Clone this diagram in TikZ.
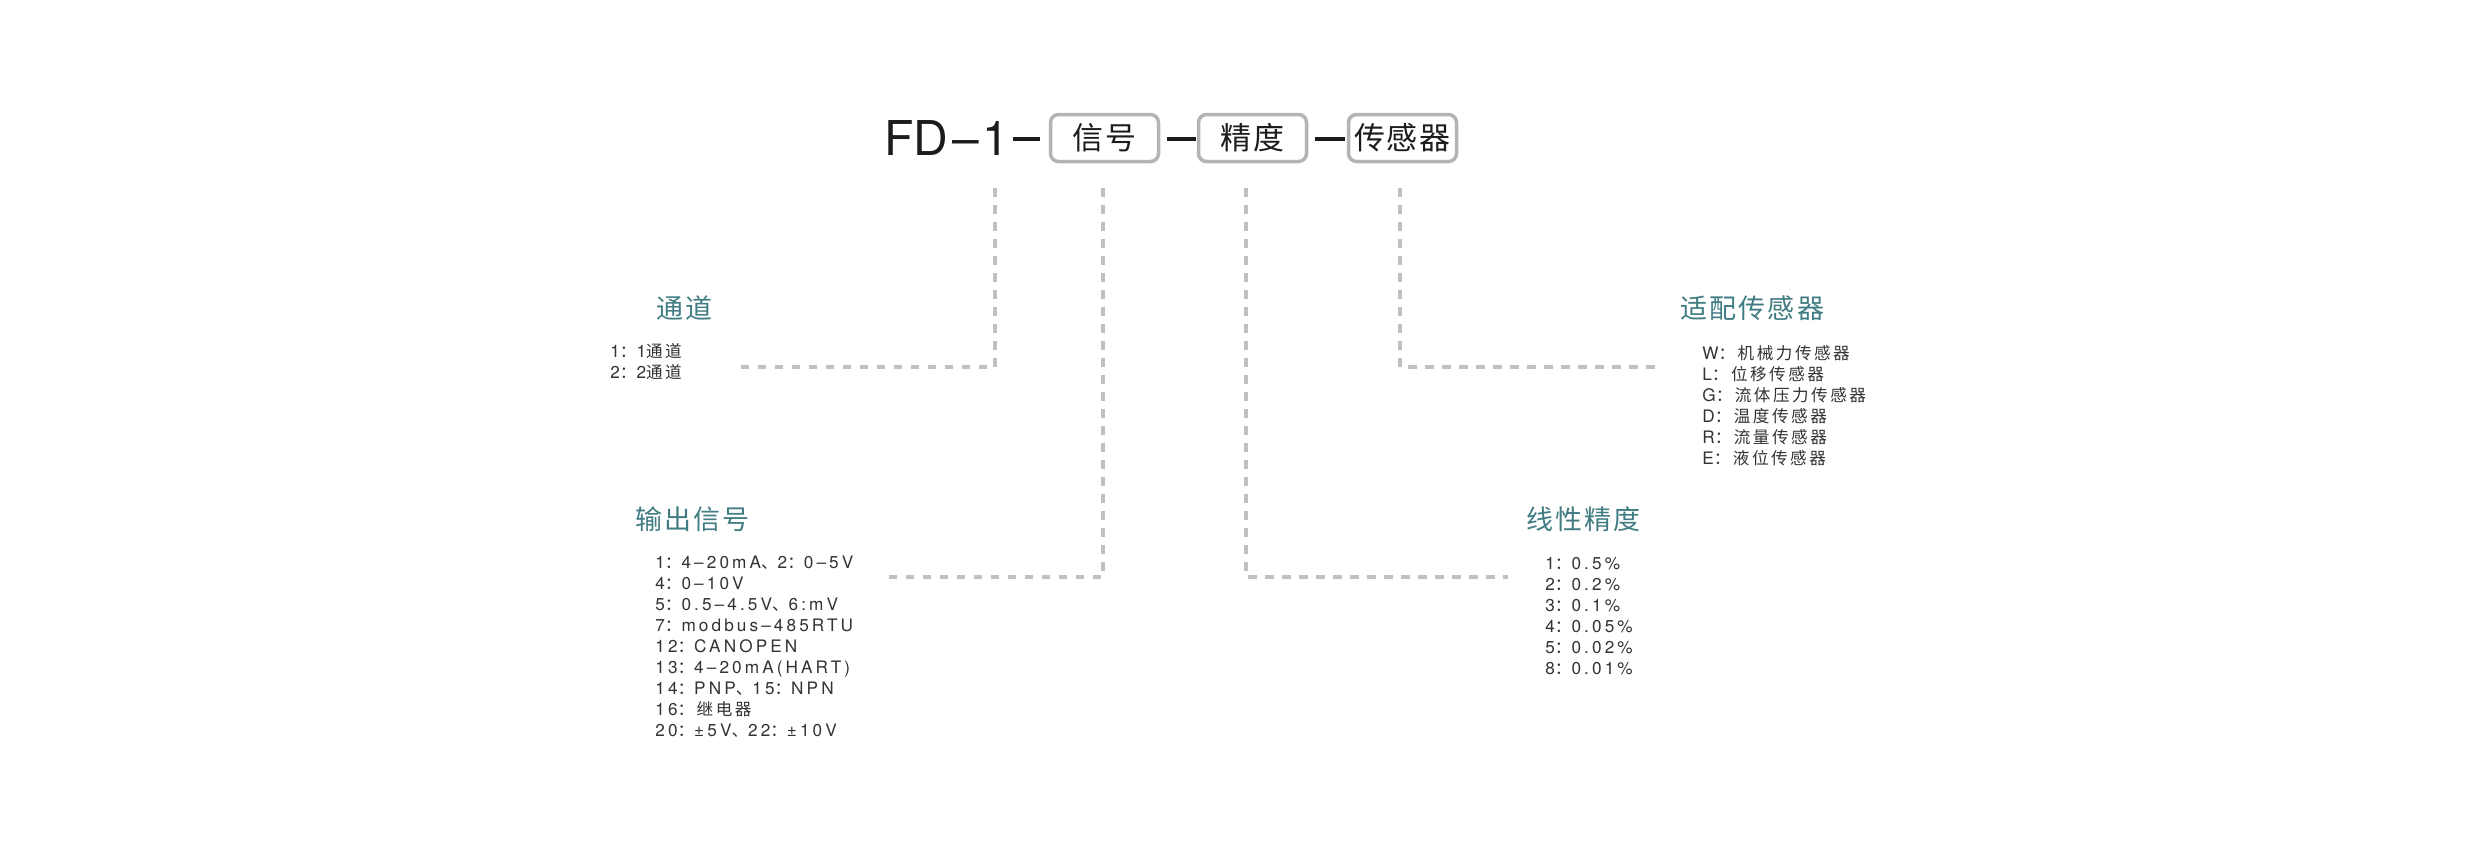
\documentclass[tikz,border=0pt]{standalone}
\usepackage{fontspec}
\setmainfont{TeX Gyre Heros}
\newfontfamily\fdfont{TeX Gyre Heros}
\newfontfamily\lat{TeX Gyre Heros}[LetterSpace=18]
\newfontfamily\cjk{Noto Sans CJK SC}[LetterSpace=15]
\newfontfamily\cjkT{Noto Sans CJK SC}[LetterSpace=8]
\newfontfamily\cjkB{Noto Sans CJK SC}[LetterSpace=4]
\newcommand\C[1]{{\cjk\fontsize{8.3}{10.5}\selectfont #1}}
\newcommand\fstrut{\rule{0pt}{10pt}}
\definecolor{titleteal}{RGB}{64,124,130}
\definecolor{listgray}{RGB}{51,51,51}
\definecolor{fdblack}{RGB}{28,28,28}
\definecolor{boxgray}{RGB}{180,180,180}
\definecolor{dashgray}{RGB}{192,192,192}
\tikzset{
  titletext/.style={anchor=west, inner sep=0pt, text=titleteal, font=\cjkT\fontsize{13.5}{15}\selectfont},
  listtext/.style={anchor=north west, inner sep=0pt, align=left, text=listgray, font=\lat\fontsize{8.6}{10.5}\selectfont},
  codebox/.style={draw=boxgray, line width=1.75pt, rounded corners=4pt, minimum width=54pt, minimum height=23.5pt, inner sep=0pt, text=fdblack, font=\cjkB\fontsize{15.5}{18}\selectfont},
  joinbar/.style={draw=fdblack, line width=2.2pt},
  dline/.style={draw=dashgray, line width=1.75pt, dash pattern=on 4.25pt off 4.25pt},
}
\begin{document}
\begin{tikzpicture}[x=0.5pt, y=-0.5pt]
\useasboundingbox[fill=white] (0,0) rectangle (2481,859);

% header code
\node[anchor=base west, inner sep=0pt, text=fdblack, font=\fdfont\fontsize{24}{28}\selectfont] (fd) at (884,155) {FD\kern2pt–\kern1.5pt1};
\node[codebox] (b1) at (1104.5,138) {信号};
\node[codebox] (b2) at (1252.5,138) {精度};
\node[codebox] (b3) at (1402.5,138) {传感器};

\coordinate (fdbar) at (1013,139);
\draw[joinbar] (fdbar) -- ([xshift=-4.25pt]b1.west |- fdbar);
\draw[joinbar] ([xshift=3.5pt]b1.east |- fdbar) -- ([xshift=-0.5pt]b2.west |- fdbar);
\draw[joinbar] ([xshift=3.5pt]b2.east |- fdbar) -- ([xshift=-1pt]b3.west |- fdbar);

% titles
\node[titletext] (tTong) at (656,308) {通道};
\node[titletext] (tOut) at (635,519) {输出信号};
\node[titletext] (tLin) at (1526,519) {线性精度};
\node[titletext] (tSen) at (1680,308) {适配传感器};

% lists
\node[listtext] (lTong) at (610,337) {\fstrut 1\C{：}1\C{通道}\\2\C{：}2\C{通道}};
\node[listtext] (lOut) at (655,548) {\fstrut 1\C{：}4–20mA\C{、}2\C{：}0–5V\\
4\C{：}0–10V\\
5\C{：}0.5–4.5V\C{、}6:mV\\
7\C{：}modbus–485RTU\\
12\C{：}CANOPEN\\
13\C{：}4–20mA(HART)\\
14\C{：}PNP\C{、}15\C{：}NPN\\
16\C{：继电器}\\
20\C{：}±5V\C{、}22\C{：}±10V};
\node[listtext] (lLin) at (1545,549) {\fstrut 1\C{：}0.5\%\\
2\C{：}0.2\%\\
3\C{：}0.1\%\\
4\C{：}0.05\%\\
5\C{：}0.02\%\\
8\C{：}0.01\%};
\node[listtext] (lSen) at (1702,339) {\fstrut W\C{：机械力传感器}\\
L\C{：位移传感器}\\
G\C{：流体压力传感器}\\
D\C{：温度传感器}\\
R\C{：流量传感器}\\
E\C{：液位传感器}};

% dashed leaders
\coordinate (v0) at (995,188);
\coordinate (v1) at (1103,188);
\coordinate (v2) at (1246,188);
\coordinate (v3) at (1400,188);
\coordinate (e0) at (737,367);
\coordinate (e1) at (889,577);
\coordinate (e2) at (1508,577);
\coordinate (e3) at (1661,367);
\draw[dline] (v0) |- (e0);
\draw[dline] (v1) |- (e1);
\draw[dline] (v2) |- (e2);
\draw[dline] (v3) |- (e3);
\end{tikzpicture}
\end{document}
